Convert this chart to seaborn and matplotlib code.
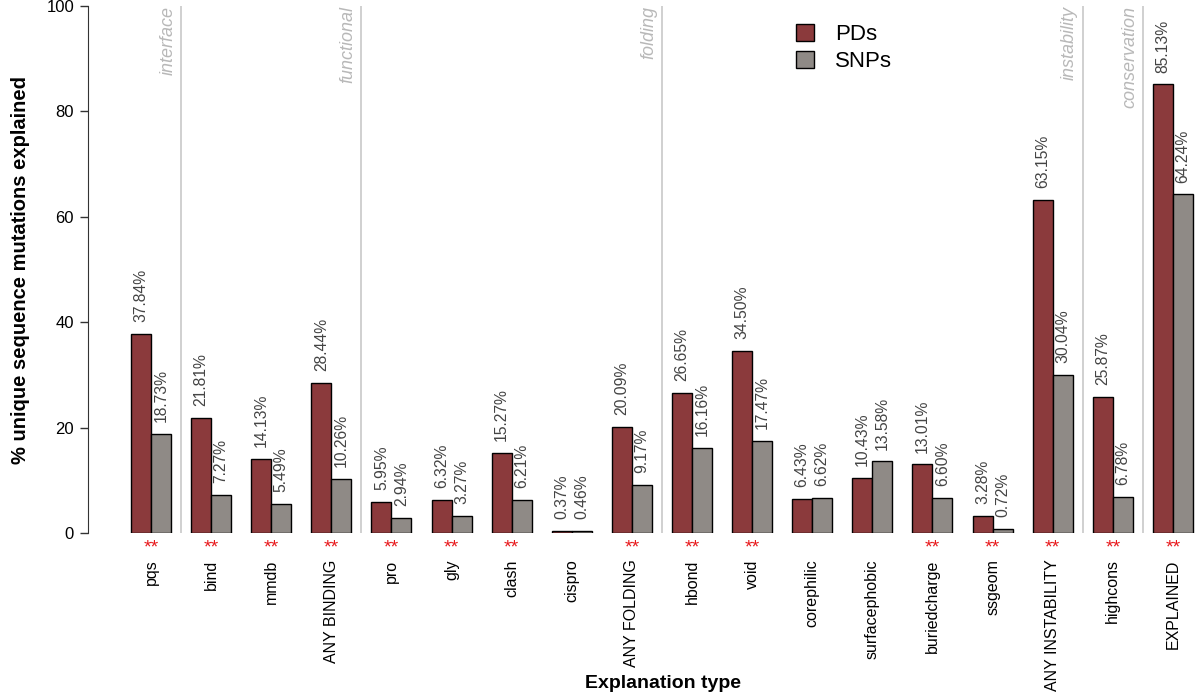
import matplotlib
matplotlib.use("Agg")
import matplotlib.pyplot as plt
import seaborn as sns
import pandas as pd
import numpy as np

categories = ["pqs", "bind", "mmdb", "ANY BINDING", "pro", "gly", "clash", "cispro",
              "ANY FOLDING", "hbond", "void", "corephilic", "surfacephobic",
              "buriedcharge", "ssgeom", "ANY INSTABILITY", "highcons", "EXPLAINED"]
pds = [37.84, 21.81, 14.13, 28.44, 5.95, 6.32, 15.27, 0.37, 20.09, 26.65, 34.50,
       6.43, 10.43, 13.01, 3.28, 63.15, 25.87, 85.13]
snps = [18.73, 7.27, 5.49, 10.26, 2.94, 3.27, 6.21, 0.46, 9.17, 16.16, 17.47,
        6.62, 13.58, 6.60, 0.72, 30.04, 6.78, 64.24]
significant = [True, True, True, True, True, True, True, False, True, True, True,
               False, False, True, True, True, True, True]
group_names = ["interface", "functional", "folding", "instability", "conservation"]
group_bounds = [0.5, 3.5, 8.5, 15.5, 16.5]
series_names = ["PDs", "SNPs"]

sns.set_style("ticks")
plt.rcParams['font.family'] = ['Liberation Sans', 'DejaVu Sans']
plt.rcParams['text.color'] = 'black'
plt.rcParams['axes.labelcolor'] = 'black'
plt.rcParams['xtick.color'] = 'black'
plt.rcParams['ytick.color'] = 'black'

df = pd.DataFrame({
    "type": categories * 2,
    "value": pds + snps,
    "series": [series_names[0]] * len(categories) + [series_names[1]] * len(categories),
})

fig = plt.figure(figsize=(12, 6.94), dpi=100)
ax = fig.add_axes([88 / 1200, 1 - 533 / 694, 1 - 88 / 1200, (533 - 6) / 694])

sns.barplot(data=df, x="type", y="value", hue="series", order=categories,
            hue_order=series_names, palette=["#8b3a3c", "#8f8a86"],
            width=0.665, dodge=True, edgecolor="black", linewidth=1.0,
            saturation=1.0, ax=ax)

for cont in ax.containers:
    ax.bar_label(cont, fmt="%.2f%%", rotation=90, padding=8.5,
                 fontsize=11.3, color="#444444")

ax.set_xlim(-1.047, 17.45)
ax.set_ylim(0, 100)
ax.set_yticks([0, 20, 40, 60, 80, 100])
ax.spines["left"].set_bounds(0, 100)
for s in ["top", "right", "bottom"]:
    ax.spines[s].set_visible(False)
ax.spines["left"].set_color("#333333")
ax.tick_params(axis="y", length=6, width=1, color="#333333", labelcolor="black",
               labelsize=12, pad=4)
ax.tick_params(axis="x", length=0, pad=19, labelsize=11.5, labelcolor="black")
ax.set_xticks(range(len(categories)))
ax.set_xticklabels(categories, rotation=90, va="top")

for b, name in zip(group_bounds, group_names):
    ax.plot([b, b], [0, 100], color="#c8c8c8", lw=1.2, zorder=0)
    ax.text(b - 0.22, 100, name, rotation=90, ha="center", va="top",
            fontstyle="italic", color="#b8b8b8", fontsize=13)

for i, sig in enumerate(significant):
    if sig:
        ax.annotate("**", xy=(i, 0), xycoords=("data", "axes fraction"),
                    xytext=(0, -11), textcoords="offset points",
                    ha="center", va="center", color="#e8191c", fontsize=14,
                    annotation_clip=False)

ax.set_xlabel("")
fig.text(663 / 1200, 1 - 683 / 694, "Explanation type", fontsize=14,
         fontweight="bold", ha="center", va="center", color="black")
ax.set_ylabel("% unique sequence mutations explained", fontsize=14.5,
              fontweight="bold", labelpad=12, color="black")

handles, labels = ax.get_legend_handles_labels()
ax.legend(handles, labels, loc="upper left", bbox_to_anchor=(796 / 1200, 1 - 24 / 694),
          bbox_transform=fig.transFigure, frameon=False, fontsize=16,
          handlelength=0.8, handleheight=0.8, handletextpad=0.95,
          labelspacing=0.25, borderpad=0, borderaxespad=0)

fig.savefig("out.png", dpi=100)
